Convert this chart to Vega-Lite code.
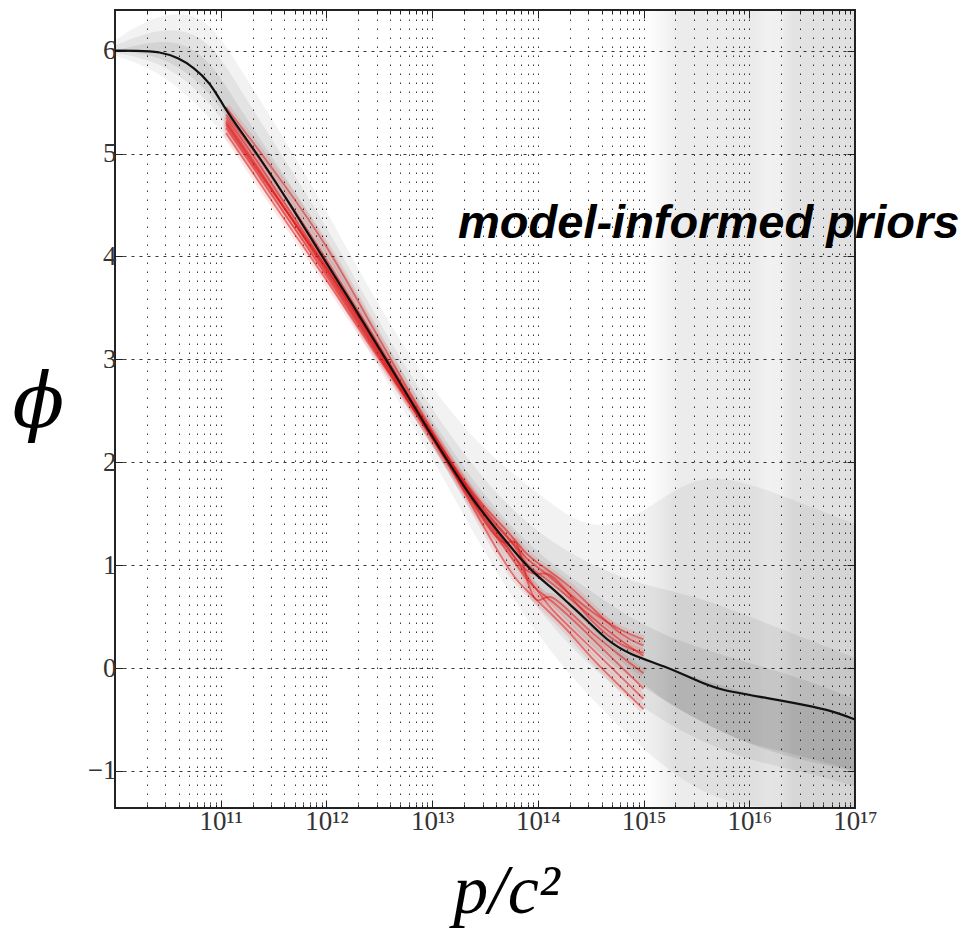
{
  "$schema": "https://vega.github.io/schema/vega-lite/v6.json",
  "width": 740,
  "height": 798,
  "autosize": "none",
  "padding": {"left": 115, "top": 10, "right": 122, "bottom": 121},
  "background": "white",
  "config": {"view": {"stroke": "#222", "strokeWidth": 2}},
  "datasets": {
    "black": [{"x":1e10,"phi":6.0},{"x":1.585e10,"phi":6.0},{"x":2.692e10,"phi":5.99},{"x":3.981e10,"phi":5.93},{"x":5.495e10,"phi":5.84},{"x":7.943e10,"phi":5.69},{"x":1.047e11,"phi":5.47},{"x":1.585e11,"phi":5.2},{"x":2.455e11,"phi":4.93},{"x":4.571e11,"phi":4.5},{"x":9.12e11,"phi":4.0},{"x":1.66e12,"phi":3.58},{"x":3.715e12,"phi":2.99},{"x":9.55e12,"phi":2.28},{"x":1.82e13,"phi":1.83},{"x":2.455e13,"phi":1.63},{"x":3.548e13,"phi":1.42},{"x":5.495e13,"phi":1.18},{"x":8.511e13,"phi":0.95},{"x":1.318e14,"phi":0.79},{"x":1.995e14,"phi":0.62},{"x":2.692e14,"phi":0.5},{"x":4.467e14,"phi":0.27},{"x":7.413e14,"phi":0.13},{"x":1.585e15,"phi":0.02},{"x":3.162e15,"phi":-0.12},{"x":5.012e15,"phi":-0.21},{"x":1.479e16,"phi":-0.29},{"x":4.365e16,"phi":-0.38},{"x":7.079e16,"phi":-0.44},{"x":1e17,"phi":-0.5}],
    "red": [
      {"x":1.122e11,"r1":5.25,"r2":5.35,"r3":5.45,"r4":5.3,"r5":5.2,"r6":5.38,"r7":5.32,"r8":5.28},
      {"x":1.995e11,"r1":4.88,"r2":5.0,"r3":5.12,"r4":4.92,"r5":4.82,"r6":5.05,"r7":4.95,"r8":4.9},
      {"x":3.981e11,"r1":4.42,"r2":4.52,"r3":4.7,"r4":4.47,"r5":4.36,"r6":4.6,"r7":4.48,"r8":4.47},
      {"x":1e12,"r1":3.82,"r2":3.9,"r3":4.12,"r4":3.88,"r5":3.78,"r6":3.98,"r7":3.85,"r8":3.9},
      {"x":2.512e12,"r1":3.18,"r2":3.25,"r3":3.38,"r4":3.22,"r5":3.15,"r6":3.3,"r7":3.2,"r8":3.25},
      {"x":6.31e12,"r1":2.55,"r2":2.6,"r3":2.65,"r4":2.58,"r5":2.55,"r6":2.62,"r7":2.56,"r8":2.6},
      {"x":1.585e13,"r1":1.93,"r2":1.95,"r3":1.95,"r4":1.9,"r5":1.92,"r6":1.9,"r7":1.94,"r8":1.96},
      {"x":3.162e13,"r1":1.42,"r2":1.52,"r3":1.55,"r4":1.4,"r5":1.45,"r6":1.35,"r7":1.5,"r8":1.48},
      {"x":5.012e13,"r1":1.15,"r2":1.3,"r3":1.35,"r4":1.15,"r5":1.18,"r6":1.0,"r7":1.28,"r8":1.2},
      {"x":6.31e13,"r1":1.0,"r2":1.15,"r3":1.22,"r4":1.32,"r5":1.05,"r6":0.85,"r7":1.18,"r8":1.05},
      {"x":7.943e13,"r1":0.85,"r2":1.0,"r3":1.1,"r4":0.8,"r5":0.93,"r6":0.75,"r7":1.05,"r8":0.88},
      {"x":1e14,"r1":0.75,"r2":0.92,"r3":1.02,"r4":0.6,"r5":0.9,"r6":0.65,"r7":0.98,"r8":0.75},
      {"x":1.259e14,"r1":0.68,"r2":0.85,"r3":0.95,"r4":0.75,"r5":0.95,"r6":0.55,"r7":0.9,"r8":0.6},
      {"x":1.995e14,"r1":0.5,"r2":0.68,"r3":0.8,"r4":0.55,"r5":0.72,"r6":0.35,"r7":0.72,"r8":0.4},
      {"x":3.162e14,"r1":0.3,"r2":0.5,"r3":0.6,"r4":0.35,"r5":0.45,"r6":0.1,"r7":0.55,"r8":0.2},
      {"x":6.31e14,"r1":0.0,"r2":0.25,"r3":0.3,"r4":0.1,"r5":0.2,"r6":-0.2,"r7":0.35,"r8":-0.1},
      {"x":1e15,"r1":-0.2,"r2":0.12,"r3":0.22,"r4":-0.05,"r5":0.15,"r6":-0.4,"r7":0.28,"r8":-0.3}
    ],
    "bands": [
      {"x":1e10,"olo":5.95,"ohi":6.1,"mlo":5.98,"mhi":6.05,"ilo":6.0,"ihi":6.0,"dlo":6.0,"dhi":6.0},
      {"x":1.995e10,"olo":5.85,"ohi":6.3,"mlo":5.92,"mhi":6.18,"ilo":5.97,"ihi":6.08,"dlo":6.0,"dhi":6.0},
      {"x":3.981e10,"olo":5.65,"ohi":6.38,"mlo":5.78,"mhi":6.22,"ilo":5.86,"ihi":6.1,"dlo":5.93,"dhi":5.93},
      {"x":7.943e10,"olo":5.35,"ohi":6.3,"mlo":5.5,"mhi":6.1,"ilo":5.6,"ihi":5.92,"dlo":5.69,"dhi":5.69},
      {"x":1.585e11,"olo":4.95,"ohi":5.8,"mlo":5.05,"mhi":5.6,"ilo":5.12,"ihi":5.4,"dlo":5.2,"dhi":5.2},
      {"x":3.981e11,"olo":4.4,"ohi":5.15,"mlo":4.5,"mhi":4.95,"ilo":4.56,"ihi":4.8,"dlo":4.62,"dhi":4.62},
      {"x":1e12,"olo":3.8,"ohi":4.45,"mlo":3.88,"mhi":4.3,"ilo":3.94,"ihi":4.15,"dlo":4.0,"dhi":4.0},
      {"x":3.162e12,"olo":2.9,"ohi":3.5,"mlo":3.0,"mhi":3.35,"ilo":3.05,"ihi":3.25,"dlo":3.1,"dhi":3.1},
      {"x":1e13,"olo":2.05,"ohi":2.7,"mlo":2.15,"mhi":2.5,"ilo":2.2,"ihi":2.4,"dlo":2.26,"dhi":2.26},
      {"x":3.162e13,"olo":1.1,"ohi":2.1,"mlo":1.3,"mhi":1.8,"ilo":1.4,"ihi":1.65,"dlo":1.48,"dhi":1.48},
      {"x":1e14,"olo":0.3,"ohi":1.7,"mlo":0.55,"mhi":1.3,"ilo":0.75,"ihi":1.1,"dlo":0.88,"dhi":0.88},
      {"x":3.162e14,"olo":-0.3,"ohi":1.3,"mlo":0.0,"mhi":1.0,"ilo":0.2,"ihi":0.75,"dlo":0.42,"dhi":0.42},
      {"x":1e15,"olo":-0.8,"ohi":1.5,"mlo":-0.4,"mhi":0.8,"ilo":-0.2,"ihi":0.4,"dlo":-0.2,"dhi":0.08},
      {"x":3.162e15,"olo":-1.2,"ohi":1.9,"mlo":-0.7,"mhi":0.7,"ilo":-0.5,"ihi":0.2,"dlo":-0.5,"dhi":-0.1},
      {"x":1e16,"olo":-1.36,"ohi":1.8,"mlo":-0.9,"mhi":0.5,"ilo":-0.75,"ihi":0.05,"dlo":-0.75,"dhi":-0.25},
      {"x":3.162e16,"olo":-1.36,"ohi":1.6,"mlo":-1.0,"mhi":0.3,"ilo":-0.85,"ihi":-0.1,"dlo":-0.9,"dhi":-0.35},
      {"x":1e17,"olo":-1.36,"ohi":1.4,"mlo":-1.15,"mhi":0.1,"ilo":-1.0,"ihi":-0.3,"dlo":-1.0,"dhi":-0.5}
    ],
    "region": [{"x":7.943e14,"x2":1e17,"lo":-1.36,"hi":6.395}],
    "label": [{"x":1.758e13,"phi":4.18,"text":"model-informed priors"}]
  },
  "resolve": {"axis": {"x": "independent", "y": "independent"}},
  "layer": [
    {
      "data": {"name": "region"},
      "mark": {"type": "rect", "fill": {"gradient": "linear", "x1": 0, "y1": 0, "x2": 1, "y2": 0, "stops": [
        {"offset": 0, "color": "rgba(0,0,0,0)"},
        {"offset": 0.08, "color": "rgba(0,0,0,0.01)"},
        {"offset": 0.14, "color": "rgba(0,0,0,0.04)"},
        {"offset": 0.2, "color": "rgba(0,0,0,0.075)"},
        {"offset": 0.55, "color": "rgba(0,0,0,0.08)"},
        {"offset": 0.6, "color": "rgba(0,0,0,0.055)"},
        {"offset": 0.66, "color": "rgba(0,0,0,0.06)"},
        {"offset": 0.72, "color": "rgba(0,0,0,0.11)"},
        {"offset": 1, "color": "rgba(0,0,0,0.12)"}]}},
      "encoding": {
        "x": {"field": "x", "type": "quantitative", "scale": {"type": "log", "domain": [1e10, 1e17], "nice": false},
          "axis": {"orient": "bottom", "values": [1e10,2e10,3e10,4e10,5e10,6e10,7e10,8e10,9e10,1e11,2e11,3e11,4e11,5e11,6e11,7e11,8e11,9e11,1e12,2e12,3e12,4e12,5e12,6e12,7e12,8e12,9e12,1e13,2e13,3e13,4e13,5e13,6e13,7e13,8e13,9e13,1e14,2e14,3e14,4e14,5e14,6e14,7e14,8e14,9e14,1e15,2e15,3e15,4e15,5e15,6e15,7e15,8e15,9e15,1e16,2e16,3e16,4e16,5e16,6e16,7e16,8e16,9e16,1e17],
            "labels": false, "tickSize": -4, "tickColor": "#222", "grid": true, "gridDash": [1.5, 7.5], "gridColor": "#222", "gridOpacity": 0.9, "domain": false, "title": null}},
        "x2": {"field": "x2"},
        "y": {"field": "lo", "type": "quantitative", "scale": {"domain": [-1.36, 6.395], "nice": false, "zero": false},
          "axis": {"orient": "left", "values": [-1,0,1,2,3,4,5,6], "tickSize": -8, "tickColor": "#222", "grid": true, "gridDash": [3, 5], "gridColor": "#222", "gridOpacity": 0.9, "domain": false,
            "labelExpr": "datum.value < 0 ? '−' + abs(datum.value) : datum.label", "labelFont": "Liberation Serif", "labelFontSize": 27, "labelColor": "#333", "labelPadding": 7,
            "title": "ϕ", "titleAngle": 0, "titleFont": "DejaVu Serif", "titleFontStyle": "italic", "titleFontWeight": "normal", "titleFontSize": 76, "titleColor": "#000", "titleX": -77, "titleY": 393, "titleAlign": "center", "titleBaseline": "middle"}},
        "y2": {"field": "hi"}
      }
    },
    {
      "data": {"name": "bands"},
      "mark": {"type": "area", "color": "#000", "opacity": 0.05, "interpolate": "basis"},
      "encoding": {
        "x": {"field": "x", "type": "quantitative", "scale": {"type": "log", "domain": [1e10, 1e17], "nice": false},
          "axis": {"orient": "bottom", "values": [1e11,1e12,1e13,1e14,1e15,1e16,1e17], "tickSize": -8, "tickColor": "#222", "grid": false, "domain": false,
            "labelExpr": "datum.value==1e11?'10¹¹':datum.value==1e12?'10¹²':datum.value==1e13?'10¹³':datum.value==1e14?'10¹⁴':datum.value==1e15?'10¹⁵':datum.value==1e16?'10¹⁶':'10¹⁷'",
            "labelFont": "Liberation Serif", "labelFontSize": 27, "labelColor": "#333", "labelPadding": 8, "labelFlush": false,
            "title": "p/c²", "titleFont": "Liberation Serif", "titleFontStyle": "italic", "titleFontWeight": "normal", "titleFontSize": 70, "titleColor": "#000", "titleX": 391, "titleY": 104, "titleAlign": "center", "titleBaseline": "alphabetic"}},
        "y": {"field": "olo", "type": "quantitative", "scale": {"domain": [-1.36, 6.395], "nice": false, "zero": false},
          "axis": {"orient": "right", "values": [-1,0,1,2,3,4,5,6], "tickSize": -8, "tickColor": "#222", "labels": false, "grid": false, "domain": false, "title": null}},
        "y2": {"field": "ohi"}
      }
    },
    {
      "data": {"name": "bands"},
      "mark": {"type": "area", "color": "#000", "opacity": 0.06, "interpolate": "basis"},
      "encoding": {
        "x": {"field": "x", "type": "quantitative", "scale": {"type": "log", "domain": [1e10, 1e17], "nice": false},
          "axis": {"orient": "top", "values": [2e10,3e10,4e10,5e10,6e10,7e10,8e10,9e10,2e11,3e11,4e11,5e11,6e11,7e11,8e11,9e11,2e12,3e12,4e12,5e12,6e12,7e12,8e12,9e12,2e13,3e13,4e13,5e13,6e13,7e13,8e13,9e13,2e14,3e14,4e14,5e14,6e14,7e14,8e14,9e14,2e15,3e15,4e15,5e15,6e15,7e15,8e15,9e15,2e16,3e16,4e16,5e16,6e16,7e16,8e16,9e16],
            "labels": false, "tickSize": -4, "tickColor": "#222", "grid": false, "domain": false, "title": null}},
        "y": {"field": "mlo", "type": "quantitative", "scale": {"domain": [-1.36, 6.395], "nice": false, "zero": false}, "axis": null},
        "y2": {"field": "mhi"}
      }
    },
    {
      "data": {"name": "bands"},
      "mark": {"type": "area", "color": "#000", "opacity": 0.07, "interpolate": "basis"},
      "encoding": {
        "x": {"field": "x", "type": "quantitative", "scale": {"type": "log", "domain": [1e10, 1e17], "nice": false},
          "axis": {"orient": "top", "values": [1e11,1e12,1e13,1e14,1e15,1e16], "labels": false, "tickSize": -8, "tickColor": "#222", "grid": false, "domain": false, "title": null}},
        "y": {"field": "ilo", "type": "quantitative", "scale": {"domain": [-1.36, 6.395], "nice": false, "zero": false}, "axis": null},
        "y2": {"field": "ihi"}
      }
    },
    {
      "data": {"name": "bands"},
      "mark": {"type": "area", "color": "#000", "opacity": 0.08, "interpolate": "basis"},
      "encoding": {
        "x": {"field": "x", "type": "quantitative", "scale": {"type": "log", "domain": [1e10, 1e17], "nice": false}, "axis": null},
        "y": {"field": "dlo", "type": "quantitative", "scale": {"domain": [-1.36, 6.395], "nice": false, "zero": false}, "axis": null},
        "y2": {"field": "dhi"}
      }
    },
    {
      "data": {"name": "red"},
      "transform": [{"fold": ["r1","r2","r3","r4","r5","r6","r7","r8"], "as": ["curve", "phi"]}],
      "mark": {"type": "line", "color": "#e01010", "opacity": 0.1, "strokeWidth": 8, "interpolate": "basis"},
      "encoding": {
        "x": {"field": "x", "type": "quantitative", "scale": {"type": "log", "domain": [1e10, 1e17], "nice": false}, "axis": null},
        "y": {"field": "phi", "type": "quantitative", "scale": {"domain": [-1.36, 6.395], "nice": false, "zero": false}, "axis": null},
        "detail": {"field": "curve", "type": "nominal"}
      }
    },
    {
      "data": {"name": "red"},
      "transform": [{"fold": ["r1","r2","r3","r4","r5","r6","r7","r8"], "as": ["curve", "phi"]}],
      "mark": {"type": "line", "color": "#e01010", "opacity": 0.5, "strokeWidth": 1.8, "interpolate": "basis"},
      "encoding": {
        "x": {"field": "x", "type": "quantitative", "scale": {"type": "log", "domain": [1e10, 1e17], "nice": false}, "axis": null},
        "y": {"field": "phi", "type": "quantitative", "scale": {"domain": [-1.36, 6.395], "nice": false, "zero": false}, "axis": null},
        "detail": {"field": "curve", "type": "nominal"}
      }
    },
    {
      "data": {"name": "black"},
      "mark": {"type": "line", "color": "#111", "strokeWidth": 2.2, "interpolate": "basis"},
      "encoding": {
        "x": {"field": "x", "type": "quantitative", "scale": {"type": "log", "domain": [1e10, 1e17], "nice": false}, "axis": null},
        "y": {"field": "phi", "type": "quantitative", "scale": {"domain": [-1.36, 6.395], "nice": false, "zero": false}, "axis": null}
      }
    },
    {
      "data": {"name": "label"},
      "mark": {"type": "text", "font": "Liberation Sans", "fontSize": 47, "fontWeight": "bold", "fontStyle": "italic", "align": "left", "baseline": "alphabetic", "color": "#000", "clip": false},
      "encoding": {
        "x": {"field": "x", "type": "quantitative", "scale": {"type": "log", "domain": [1e10, 1e17], "nice": false}, "axis": null},
        "y": {"field": "phi", "type": "quantitative", "scale": {"domain": [-1.36, 6.395], "nice": false, "zero": false}, "axis": null},
        "text": {"field": "text"}
      }
    }
  ]
}
